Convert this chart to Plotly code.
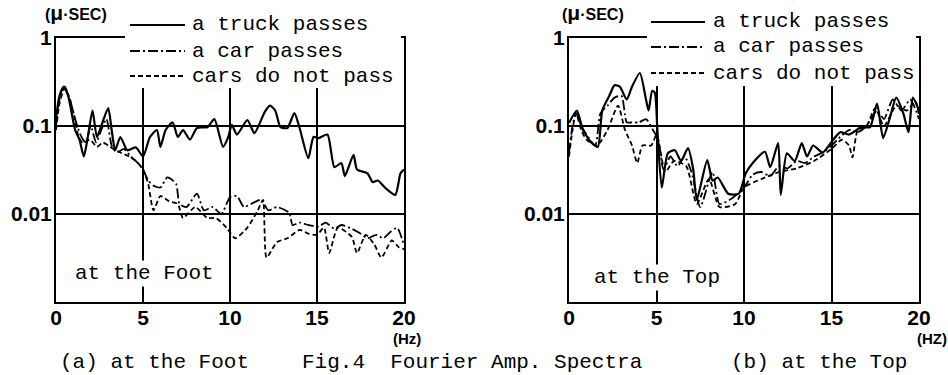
import plotly.graph_objects as go

# ---------------- data ----------------
freq_label = [0, 5, 10, 15, 20]
tick_x_text = ["0", "5", "10", "15", "20"]
amp_ticks = [1, 0.1, 0.01]
amp_tick_text = ["1", "0.1", "0.01"]
series_names = ["a truck passes", "a car passes", "cars do not pass"]

# (a) at the Foot
foot_truck_x = [0, 0.2, 0.45, 0.7, 1.1, 1.35, 1.6, 1.85, 2.1, 2.35, 2.6, 3.0, 3.2, 3.4, 3.7, 4.1, 4.6, 5.0,
                5.4, 5.8, 6.0, 6.3, 6.7, 7.0, 7.3, 7.7, 8.1, 8.7, 9.1, 9.6, 9.9, 10.1, 10.4, 11.0, 11.4,
                12.0, 12.3, 12.6, 12.9, 13.3, 13.7, 14.0, 14.5, 14.8, 15.1, 15.6, 16.0, 16.4, 16.6, 17.1,
                17.3, 17.9, 18.2, 18.5, 18.9, 19.5, 19.8, 20]
foot_truck_y = [0.12, 0.22, 0.28, 0.22, 0.09, 0.07, 0.045, 0.08, 0.15, 0.075, 0.1, 0.16, 0.09, 0.053, 0.075,
                0.053, 0.057, 0.045, 0.075, 0.09, 0.058, 0.09, 0.11, 0.075, 0.09, 0.07, 0.095, 0.097, 0.12,
                0.058, 0.075, 0.103, 0.08, 0.117, 0.083, 0.145, 0.17, 0.15, 0.097, 0.095, 0.14, 0.095, 0.043,
                0.075, 0.073, 0.08, 0.034, 0.038, 0.027, 0.047, 0.032, 0.029, 0.023, 0.024, 0.02, 0.0165,
                0.029, 0.032]

foot_car_x = [0, 0.2, 0.5, 0.8, 1.1, 1.4, 1.7, 2.0, 2.3, 2.6, 2.9, 3.2, 3.5, 3.9, 4.3, 4.7, 5.0, 5.3, 5.6,
              6.0, 6.4, 6.9, 7.1, 7.5, 8.1, 8.5, 9.0, 9.5, 10.0, 10.4, 10.8, 11.2, 11.8, 12.2, 12.7, 13.4,
              13.6, 14.0, 14.5, 15.1, 15.5, 16.0, 16.4, 17.0, 17.5, 17.9, 18.4, 18.8, 19.2, 19.6, 20]
foot_car_y = [0.1, 0.2, 0.28, 0.2, 0.12, 0.08, 0.065, 0.1, 0.065, 0.09, 0.12, 0.06, 0.05, 0.055, 0.045,
              0.038, 0.032, 0.024, 0.021, 0.02, 0.026, 0.022, 0.013, 0.012, 0.017, 0.011, 0.012, 0.01,
              0.0155, 0.016, 0.012, 0.013, 0.0145, 0.011, 0.012, 0.0103, 0.0075, 0.008, 0.0075, 0.0072,
              0.008, 0.0068, 0.0075, 0.0068, 0.006, 0.0053, 0.0058, 0.0053, 0.0062, 0.007, 0.0044]

foot_none_x = [0, 0.2, 0.5, 0.8, 1.1, 1.3, 1.55, 1.95, 2.35, 2.7, 3.0, 3.3, 3.7, 4.2, 4.6, 5.0, 5.3, 5.6,
               6.0, 6.5, 7.0, 7.3, 8.0, 8.7, 9.2, 9.8, 10.3, 11.0, 11.6, 11.9, 12.1, 12.7, 13.3, 14.0, 14.5,
               15.0, 15.4, 15.7, 16.2, 17.0, 17.3, 17.8, 18.3, 18.7, 19.3, 19.7, 20]
foot_none_y = [0.09, 0.18, 0.27, 0.2, 0.117, 0.075, 0.064, 0.07, 0.058, 0.065, 0.06, 0.055, 0.05, 0.045,
               0.04, 0.032, 0.022, 0.011, 0.016, 0.014, 0.013, 0.009, 0.012, 0.009, 0.009, 0.007, 0.0053,
               0.007, 0.011, 0.0145, 0.0032, 0.0048, 0.0053, 0.0066, 0.006, 0.0058, 0.007, 0.0036, 0.007,
               0.0055, 0.0036, 0.0058, 0.0045, 0.0032, 0.005, 0.0042, 0.004]

# (b) at the Top
top_truck_x = [0, 0.45, 0.8, 1.3, 1.65, 1.9, 2.3, 2.6, 2.9, 3.3, 3.6, 4.05, 4.4, 4.55, 4.75, 4.9, 5.05,
               5.3, 5.65, 6.05, 6.4, 6.8, 7.1, 7.3, 7.9, 8.2, 8.5, 9.1, 9.7, 10.1, 10.5, 11.2, 11.5, 11.95,
               12.1, 12.45, 12.9, 13.3, 13.6, 13.95, 14.5, 15.1, 15.5, 16.0, 16.7, 17.2, 17.6, 17.95, 18.3,
               18.7, 19.1, 19.4, 19.65, 20]
top_truck_y = [0.108, 0.15, 0.09, 0.064, 0.058, 0.15, 0.22, 0.29, 0.28, 0.2, 0.28, 0.40, 0.2, 0.15, 0.25,
               0.24, 0.09, 0.02, 0.049, 0.053, 0.04, 0.056, 0.032, 0.0145, 0.041, 0.024, 0.026, 0.017,
               0.017, 0.029, 0.038, 0.051, 0.034, 0.064, 0.0165, 0.049, 0.04, 0.064, 0.045, 0.06, 0.05,
               0.07, 0.085, 0.08, 0.097, 0.097, 0.18, 0.073, 0.117, 0.21, 0.14, 0.085, 0.21, 0.15]

top_car_x = [0, 0.2, 0.4, 0.7, 1.0, 1.5, 1.8, 2.2, 2.6, 3.0, 3.3, 3.6, 4.0, 4.4, 4.8, 5.1, 5.4, 5.8, 6.2,
             6.6, 7.0, 7.5, 8.2, 8.6, 9.3, 10.0, 10.5, 11.0, 11.5, 12.0, 12.5, 13.0, 13.5, 14.0, 14.5, 15.0,
             15.5, 16.0, 16.5, 17.0, 17.6, 18.0, 18.5, 19.0, 19.5, 20]
top_car_y = [0.05, 0.1, 0.14, 0.1, 0.08, 0.06, 0.14, 0.17, 0.21, 0.22, 0.11, 0.11, 0.11, 0.12, 0.09, 0.07,
             0.032, 0.045, 0.035, 0.045, 0.03, 0.012, 0.03, 0.013, 0.015, 0.02, 0.028, 0.03, 0.027, 0.035,
             0.033, 0.04, 0.038, 0.045, 0.05, 0.06, 0.075, 0.09, 0.085, 0.1, 0.15, 0.12, 0.2, 0.15, 0.2, 0.12]

top_none_x = [0, 0.2, 0.4, 0.7, 1.0, 1.6, 2.2, 2.8, 3.2, 3.6, 3.9, 4.2, 4.7, 5.0, 5.2, 5.5, 6.0, 6.7, 7.3,
              8.0, 8.6, 9.5, 10.0, 11.0, 12.0, 13.0, 14.0, 15.0, 15.6, 16.0, 16.2, 16.5, 17.0, 17.5, 18.0,
              18.7, 19.3, 19.8, 20]
top_none_y = [0.045, 0.09, 0.14, 0.09, 0.07, 0.06, 0.09, 0.17, 0.09, 0.06, 0.038, 0.06, 0.06, 0.08, 0.055,
              0.03, 0.04, 0.035, 0.013, 0.025, 0.012, 0.013, 0.02, 0.025, 0.03, 0.033, 0.04, 0.055, 0.07,
              0.06, 0.044, 0.09, 0.1, 0.16, 0.1, 0.17, 0.15, 0.19, 0.13]

# ---------------- styling ----------------
W, H = 948, 375
def px(x):
    return x / W
def py(y):
    return 1 - y / H

styles = [dict(width=2.2, dash="solid"),
          dict(width=1.8, dash="10px,3px,2px,3px"),
          dict(width=1.8, dash="5px,3px")]

MONO = "Liberation Mono"
SANS = "Liberation Sans"

fig = go.Figure()

panels = [
    ("x", "y", [(foot_truck_x, foot_truck_y), (foot_car_x, foot_car_y), (foot_none_x, foot_none_y)]),
    ("x2", "y2", [(top_truck_x, top_truck_y), (top_car_x, top_car_y), (top_none_x, top_none_y)]),
]
for xa, ya, data in panels:
    for (xs, ys), st, nm in zip(data, styles, series_names):
        fig.add_trace(go.Scatter(x=xs, y=ys, mode="lines", name=nm, xaxis=xa, yaxis=ya,
                                 showlegend=False,
                                 line=dict(color="black", width=st["width"], dash=st["dash"],
                                           shape="spline", smoothing=0.6)))

ydom = [py(302), py(38)]
axis_common = dict(showline=True, mirror=True, linecolor="black", linewidth=2, automargin=False,
                   showgrid=True, gridcolor="black", gridwidth=1.5, zeroline=False, ticks="")
xfont = dict(family=SANS, size=21, color="black", weight="bold")
yfont = dict(family=SANS, size=21, color="black", weight="bold")

fig.update_layout(
    width=W, height=H, margin=dict(l=0, r=0, t=0, b=0, pad=0, autoexpand=False),
    paper_bgcolor="white", plot_bgcolor="white", showlegend=False,
    xaxis=dict(domain=[px(56), px(404)], range=[0, 20], tickvals=freq_label, ticktext=tick_x_text,
               tickfont=xfont, anchor="y", ticklabelstandoff=-4, **axis_common),
    yaxis=dict(domain=ydom, type="log", range=[-3, 0], tickvals=amp_ticks, ticktext=amp_tick_text,
               tickfont=yfont, anchor="x", ticklabelstandoff=-2, **axis_common),
    xaxis2=dict(domain=[px(569), px(919)], range=[0, 20], tickvals=freq_label, ticktext=tick_x_text,
                tickfont=xfont, anchor="y2", ticklabelstandoff=-4, **axis_common),
    yaxis2=dict(domain=ydom, type="log", range=[-3, 0], tickvals=amp_ticks, ticktext=amp_tick_text,
                tickfont=yfont, anchor="x2", ticklabelstandoff=-2, **axis_common),
)

shapes = []
annotations = []

# white legend boxes hiding the grid / top border
for x0, x1, y1 in [(125, 401, 88), (647, 916, 86)]:
    shapes.append(dict(type="rect", xref="paper", yref="paper", x0=px(x0), x1=px(x1),
                       y0=py(y1), y1=1, fillcolor="white", line=dict(width=0), layer="above"))

# legend samples and texts
legend_pos = [
    dict(lx0=130, lx1=185, tx=190, rows=[25, 51, 76]),
    dict(lx0=651, lx1=705, tx=711, rows=[22, 47, 73]),
]
for lp in legend_pos:
    for st, nm, ry in zip(styles, series_names, lp["rows"]):
        shapes.append(dict(type="line", xref="paper", yref="paper", x0=px(lp["lx0"]), x1=px(lp["lx1"]),
                           y0=py(ry), y1=py(ry), layer="above",
                           line=dict(color="black", width=st["width"], dash=st["dash"])))
        annotations.append(dict(text=nm, xref="paper", yref="paper", x=px(lp["tx"]), y=py(ry),
                                xanchor="left", yanchor="middle", showarrow=False,
                                font=dict(family=MONO, size=21, color="black")))

# unit labels
for cx in [76, 593]:
    annotations.append(dict(text="(<span style='font-size:21px'>μ</span>·SEC)", xref="paper", yref="paper",
                            x=px(cx), y=py(13), xanchor="center", yanchor="middle", showarrow=False,
                            font=dict(family=SANS, size=16, color="black", weight="bold")))
for cx, txt in [(407, "(Hz)"), (932, "(HZ)")]:
    annotations.append(dict(text=txt, xref="paper", yref="paper", x=px(cx), y=py(338),
                            xanchor="center", yanchor="middle", showarrow=False,
                            font=dict(family=SANS, size=15, color="black", weight="bold")))

# panel labels inside plots
for tx, ty, txt in [(73, 273, "at the Foot"), (592, 277, "at the Top")]:
    annotations.append(dict(text=txt, xref="paper", yref="paper", x=px(tx), y=py(ty),
                            xanchor="left", yanchor="middle", showarrow=False, bgcolor="white",
                            font=dict(family=MONO, size=21, color="black")))

# captions
for tx, txt in [(58, "(a) at the Foot"), (300, "Fig.4  Fourier Amp. Spectra"), (729, "(b) at the Top")]:
    annotations.append(dict(text=txt, xref="paper", yref="paper", x=px(tx), y=py(362),
                            xanchor="left", yanchor="middle", showarrow=False,
                            font=dict(family=MONO, size=21, color="black")))

fig.update_layout(shapes=shapes, annotations=annotations)
fig.write_html("out.html")
